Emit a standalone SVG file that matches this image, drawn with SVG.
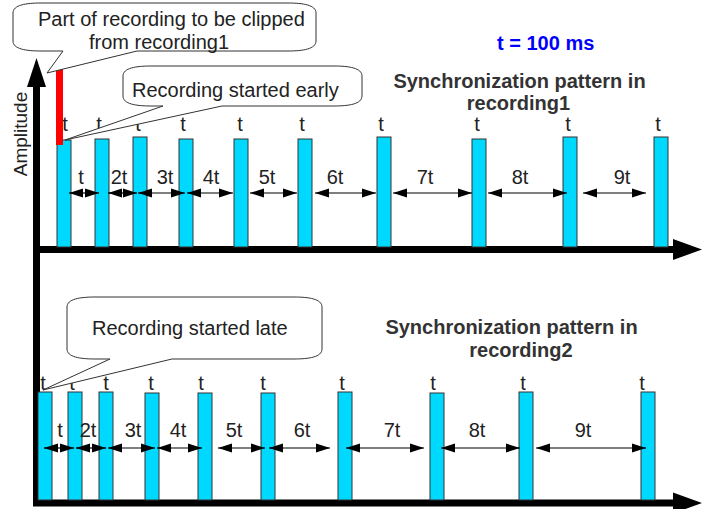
<svg xmlns="http://www.w3.org/2000/svg" width="709" height="509" viewBox="0 0 709 509">
<defs>
<style>
.bar{fill:#00d9ff;stroke:#333;stroke-width:1}
.clip{fill:#ff0000}
.axis{stroke:#000;stroke-width:7;fill:none}
.head{fill:#000}
.iv{stroke:#000;stroke-width:1.2;fill:none;marker-start:url(#ah);marker-end:url(#ah)}
.call{fill:#fff;stroke:#333;stroke-width:1}
text{font-family:"Liberation Sans",Arial,sans-serif;font-size:20px;fill:#222}
.lbl{text-anchor:middle}
.title{font-weight:bold;text-anchor:middle;fill:#333}
.blue{font-weight:bold;fill:#0000ff}
</style>
<marker id="ah" markerUnits="userSpaceOnUse" markerWidth="14" markerHeight="10" viewBox="0 0 14 10" refX="14" refY="5" orient="auto-start-reverse">
<path d="M0,0.5 L14,5 L0,9.5 Z" fill="#000"/>
</marker>
</defs>

<g id="axes">
<line class="axis" x1="36.5" y1="85" x2="36.5" y2="506"/>
<polygon class="head" points="36.5,58 27,87 46,87"/>
<line class="axis" x1="33" y1="249.5" x2="676" y2="249.5"/>
<polygon class="head" points="673,239 702,249.5 673,260"/>
<line class="axis" x1="33" y1="503" x2="676" y2="503"/>
<polygon class="head" points="673,492.5 702,503 673,513.5"/>
<text transform="translate(27,134) rotate(-90)" class="lbl" style="font-size:19px">Amplitude</text>
</g>

<g id="pattern1">
<rect class="bar" x="57" y="140" width="14" height="107"/>
<rect class="bar" x="95" y="139" width="14" height="108"/>
<rect class="bar" x="133" y="137" width="14" height="110"/>
<rect class="bar" x="179" y="139" width="14" height="108"/>
<rect class="bar" x="234" y="139" width="14" height="108"/>
<rect class="bar" x="298" y="139" width="14" height="108"/>
<rect class="bar" x="377" y="137" width="14" height="110"/>
<rect class="bar" x="472" y="139" width="14" height="108"/>
<rect class="bar" x="563" y="137" width="14" height="110"/>
<rect class="bar" x="654" y="137" width="14" height="110"/>
<rect class="clip" x="56" y="66" width="7" height="79"/>
<text class="lbl" x="65" y="131">t</text>
<text class="lbl" x="99" y="131">t</text>
<text class="lbl" x="138" y="131">t</text>
<text class="lbl" x="183" y="131">t</text>
<text class="lbl" x="240" y="131">t</text>
<text class="lbl" x="302" y="131">t</text>
<text class="lbl" x="381" y="131">t</text>
<text class="lbl" x="477" y="131">t</text>
<text class="lbl" x="568" y="131">t</text>
<text class="lbl" x="658" y="131">t</text>
<text class="lbl" x="81" y="184">t</text>
<text class="lbl" x="119" y="184">2t</text>
<text class="lbl" x="165" y="184">3t</text>
<text class="lbl" x="211" y="184">4t</text>
<text class="lbl" x="267" y="184">5t</text>
<text class="lbl" x="335" y="184">6t</text>
<text class="lbl" x="425" y="184">7t</text>
<text class="lbl" x="520" y="184">8t</text>
<text class="lbl" x="622" y="184">9t</text>
<text class="title" x="519.5" y="88">Synchronization pattern in</text>
<text class="title" x="518.5" y="110">recording1</text>
</g>

<g id="pattern2">
<rect class="bar" x="38" y="392" width="14" height="108"/>
<rect class="bar" x="68" y="392" width="14" height="108"/>
<rect class="bar" x="99" y="392" width="14" height="108"/>
<rect class="bar" x="145" y="393" width="14" height="107"/>
<rect class="bar" x="198" y="393" width="14" height="107"/>
<rect class="bar" x="261" y="393" width="14" height="107"/>
<rect class="bar" x="338" y="392" width="14" height="108"/>
<rect class="bar" x="430" y="393" width="14" height="107"/>
<rect class="bar" x="519" y="392" width="14" height="108"/>
<rect class="bar" x="641" y="392" width="14" height="108"/>
<text class="lbl" x="43" y="390">t</text>
<text class="lbl" x="72" y="390">t</text>
<text class="lbl" x="106" y="390">t</text>
<text class="lbl" x="151" y="390">t</text>
<text class="lbl" x="201" y="390">t</text>
<text class="lbl" x="263" y="390">t</text>
<text class="lbl" x="342" y="390">t</text>
<text class="lbl" x="433" y="390">t</text>
<text class="lbl" x="523" y="390">t</text>
<text class="lbl" x="642" y="390">t</text>
<text class="lbl" x="60" y="437">t</text>
<text class="lbl" x="88" y="437">2t</text>
<text class="lbl" x="133" y="437">3t</text>
<text class="lbl" x="178" y="437">4t</text>
<text class="lbl" x="234" y="437">5t</text>
<text class="lbl" x="302" y="437">6t</text>
<text class="lbl" x="392" y="437">7t</text>
<text class="lbl" x="477" y="437">8t</text>
<text class="lbl" x="583" y="437">9t</text>
<text class="title" x="511.5" y="334">Synchronization pattern in</text>
<text class="title" x="521" y="357">recording2</text>
</g>

<g id="connectors">
<line class="iv" x1="69" y1="193" x2="99" y2="193"/>
<line class="iv" x1="108" y1="193" x2="137" y2="193"/>
<line class="iv" x1="138" y1="193" x2="185" y2="193"/>
<line class="iv" x1="187" y1="193" x2="233" y2="193"/>
<line class="iv" x1="250" y1="193" x2="297" y2="193"/>
<line class="iv" x1="315" y1="193" x2="376" y2="193"/>
<line class="iv" x1="393" y1="193" x2="472" y2="193"/>
<line class="iv" x1="488" y1="193" x2="567" y2="193"/>
<line class="iv" x1="583" y1="193" x2="646" y2="193"/>
<line class="iv" x1="44" y1="448" x2="74" y2="448"/>
<line class="iv" x1="76" y1="448" x2="106" y2="448"/>
<line class="iv" x1="108" y1="448" x2="155" y2="448"/>
<line class="iv" x1="157" y1="448" x2="202" y2="448"/>
<line class="iv" x1="218" y1="448" x2="265" y2="448"/>
<line class="iv" x1="269" y1="448" x2="330" y2="448"/>
<line class="iv" x1="346" y1="448" x2="424" y2="448"/>
<line class="iv" x1="441" y1="448" x2="520" y2="448"/>
<line class="iv" x1="536" y1="448" x2="646" y2="448"/>
</g>

<g id="callout-clip">
<path class="call" d="M13,13 C13,5 26,3 41,3 H288 C303,3 316,5 316,13 V41 C316,49 303,51 288,51 H137 L47,73 L63,51 H41 C26,51 13,49 13,41 Z"/>
<text x="38" y="26">Part of recording to be clipped</text>
<text x="89" y="49">from recording1</text>
</g>

<g id="callout-early">
<path class="call" d="M123,76 C123,68 136,66 151,66 H334 C349,66 362,68 362,76 V96 C362,104 349,106 334,106 H222 L65,140 L163,106 H151 C136,106 123,104 123,96 Z"/>
<text x="132" y="97">Recording started early</text>
</g>

<g id="callout-late">
<path class="call" d="M67,307 C67,299 80,297 95,297 H294 C309,297 322,299 322,307 V349 C322,357 309,359 294,359 H172 L43,390 L110,359 H95 C80,359 67,357 67,349 Z"/>
<text x="92" y="335">Recording started late</text>
</g>

<g id="unit">
<text class="blue" x="497" y="50">t = 100 ms</text>
</g>
</svg>
